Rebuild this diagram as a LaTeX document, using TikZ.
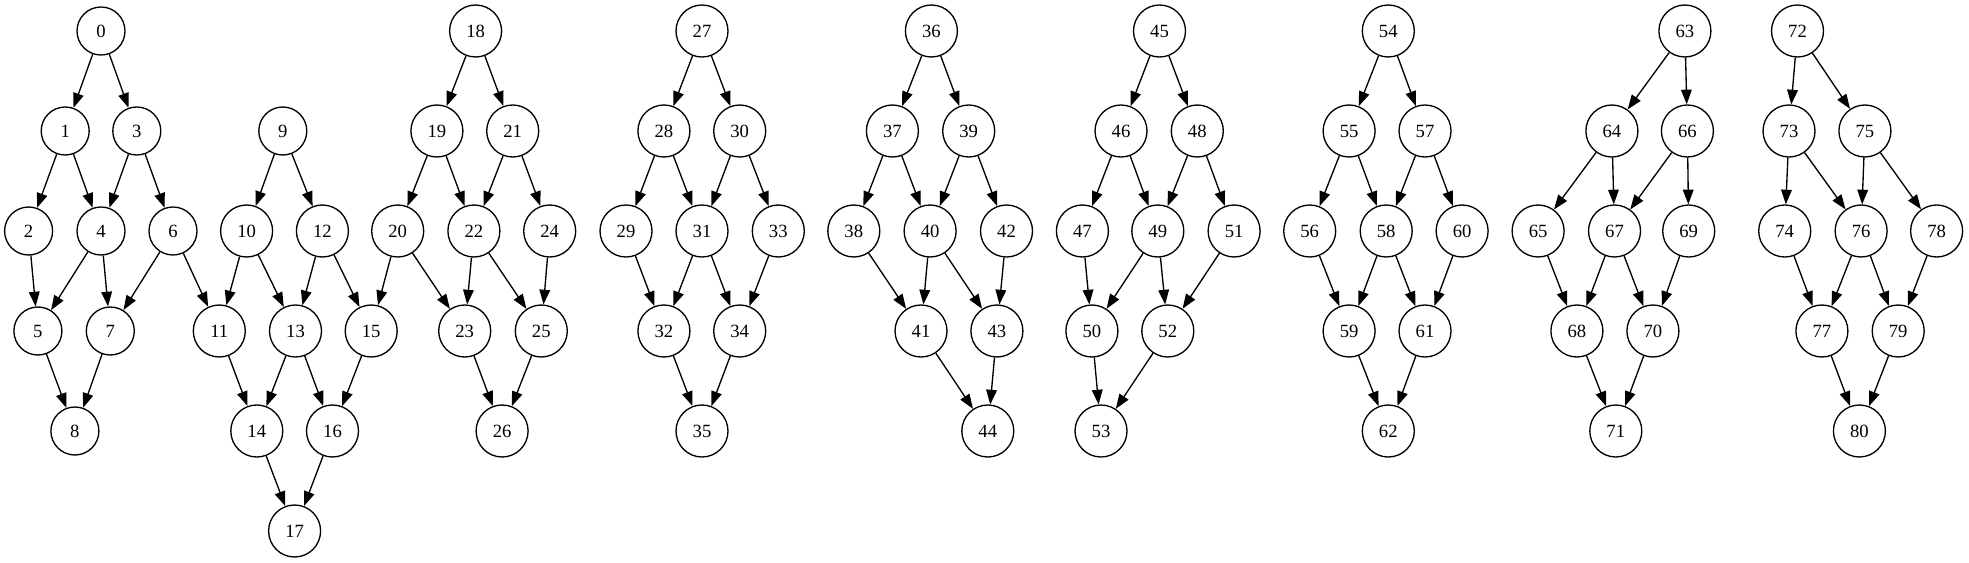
\documentclass[tikz,border=0pt]{standalone}
\usepackage{fontspec}
\setmainfont{Liberation Serif}
\usetikzlibrary{arrows.meta}

\begin{document}
\begin{tikzpicture}[x=0.75pt,y=-0.75pt,
		vertex/.style={draw,circle,line width=1pt,inner sep=0pt,font=\fontsize{14}{16}\selectfont},
		edge/.style={line width=1pt,-{Triangle[length=11pt,width=8pt]}}]
		\useasboundingbox (0,0) rectangle (1969,563);
		% node number / x / row
		\foreach \N/\X/\R in {0/101.0/0, 1/65.2/1, 2/28.6/2, 3/136.8/1, 4/101.0/2, 5/37.9/3, 6/173.0/2, 7/110.3/3, 8/74.9/4,
			9/282.8/1, 10/246.6/2, 11/219.3/3, 12/322.4/2, 13/295.5/3, 14/256.8/4, 15/371.2/3, 16/332.5/4, 17/294.6/5,
			18/475.6/0, 19/436.9/1, 20/397.7/2, 21/512.7/1, 22/473.9/2, 23/464.7/3, 24/549.7/2, 25/541.3/3, 26/502.1/4,
			27/702.0/0, 28/663.9/1, 29/626.0/2, 30/739.7/1, 31/702.0/2, 32/663.9/3, 33/778.3/2, 34/739.7/3, 35/702.0/4,
			36/931.4/0, 37/892.4/1, 38/853.8/2, 39/968.7/1, 40/930.1/2, 41/921.0/3, 42/1006.5/2, 43/996.9/3, 44/987.8/4,
			45/1159.5/0, 46/1121.0/1, 47/1082.4/2, 48/1197.3/1, 49/1157.8/2, 50/1091.9/3, 51/1234.1/2, 52/1167.8/3, 53/1101.0/4,
			54/1388.3/0, 55/1349.1/1, 56/1309.7/2, 57/1425.0/1, 58/1386.2/2, 59/1349.1/3, 60/1462.1/2, 61/1425.0/3, 62/1388.3/4,
			63/1684.9/0, 64/1611.9/1, 65/1538.1/2, 66/1687.4/1, 67/1614.5/2, 68/1576.9/3, 69/1688.7/2, 70/1652.9/3, 71/1615.8/4,
			72/1797.5/0, 73/1789.0/1, 74/1784.7/2, 75/1864.9/1, 76/1861.1/2, 77/1821.9/3, 78/1936.6/2, 79/1898.2/3, 80/1859.4/4}{
			\pgfmathsetmacro\D{\N<10 ? 36 : 39}
			\node[vertex,minimum size=\D pt] (v\N) at (\X,31+100*\R) {\N};
		}
		% every block of nine has the same edges
		\foreach \K in {0,...,8}{
			\foreach \A/\B in {0/1,0/3,1/2,1/4,3/4,3/6,2/5,4/5,4/7,6/7,5/8,7/8}{
				\pgfmathtruncatemacro\S{9*\K+\A}
				\pgfmathtruncatemacro\T{9*\K+\B}
				\draw[edge] (v\S) -- (v\T);
			}
		}
		\draw[edge] (v6) -- (v11);
		\draw[edge] (v20) -- (v15);
	\end{tikzpicture}
\end{document}
